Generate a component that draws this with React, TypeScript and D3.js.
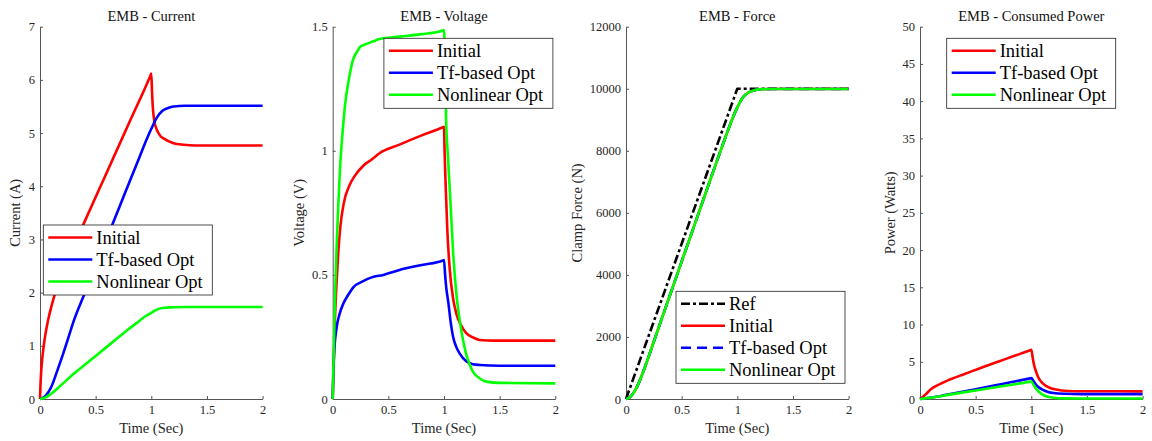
import React, { useRef, useEffect } from "react";
import * as d3 from "d3";

type Pt = [number, number];

// ---- data ----
const timeTicks = [0, 0.5, 1, 1.5, 2];
const optNames = ["Initial", "Tf-based Opt", "Nonlinear Opt"];
const forceNames = ["Ref", "Initial", "Tf-based Opt", "Nonlinear Opt"];

const currentTicks = [0, 1, 2, 3, 4, 5, 6, 7];
const voltageTicks = [0, 0.5, 1, 1.5];
const forceTicks = [0, 2000, 4000, 6000, 8000, 10000, 12000];
const powerTicks = [0, 5, 10, 15, 20, 25, 30, 35, 40, 45, 50];

const currentInitial: Pt[] = [
  [0, 0], [0.005, 0.3], [0.01, 0.5], [0.02, 0.75], [0.04, 1.1], [0.06, 1.35], [0.08, 1.55],
  [0.1, 1.72], [0.13, 1.95], [0.2, 2.35], [0.3, 2.86], [0.4, 3.33], [0.6, 4.26], [0.8, 5.19],
  [0.99, 6.07], [1.0, 6.12], [1.008, 5.7], [1.015, 5.45], [1.026, 5.24], [1.05, 5.06],
  [1.08, 4.95], [1.11, 4.9], [1.2, 4.81], [1.29, 4.78], [1.4, 4.765], [2, 4.765],
];
const currentTf: Pt[] = [
  [0, 0], [0.05, 0.06], [0.1, 0.22], [0.15, 0.5], [0.2, 0.8], [0.25, 1.12], [0.3, 1.45],
  [0.4, 1.98], [0.5, 2.5], [0.6, 3.02], [0.7, 3.54], [0.8, 4.06], [0.9, 4.58], [0.95, 4.84],
  [1.0, 5.08], [1.05, 5.29], [1.1, 5.42], [1.15, 5.47], [1.2, 5.5], [1.3, 5.515], [2, 5.515],
];
const currentNl: Pt[] = [
  [0, 0], [0.05, 0.03], [0.1, 0.1], [0.2, 0.28], [0.3, 0.47], [0.4, 0.64], [0.5, 0.81],
  [0.6, 0.98], [0.7, 1.15], [0.8, 1.32], [0.9, 1.48], [0.95, 1.56], [1.0, 1.62], [1.05, 1.68],
  [1.1, 1.71], [1.2, 1.725], [1.3, 1.73], [2, 1.73],
];

const voltInitial: Pt[] = [
  [0, 0], [0.01, 0.15], [0.02, 0.32], [0.035, 0.47], [0.05, 0.59], [0.07, 0.7], [0.1, 0.79],
  [0.15, 0.86], [0.2, 0.9], [0.275, 0.94], [0.35, 0.965], [0.42, 0.99], [0.6, 1.025],
  [0.8, 1.062], [0.99, 1.095], [1.0, 1.097], [1.005, 1.0], [1.015, 0.86], [1.03, 0.68],
  [1.052, 0.52], [1.08, 0.41], [1.11, 0.345], [1.15, 0.3], [1.2, 0.265], [1.26, 0.248],
  [1.32, 0.238], [1.45, 0.235], [2, 0.235],
];
const voltTf: Pt[] = [
  [0, 0], [0.005, 0.1], [0.012, 0.18], [0.036, 0.29], [0.06, 0.34], [0.096, 0.385],
  [0.14, 0.42], [0.185, 0.45], [0.275, 0.475], [0.35, 0.49], [0.455, 0.5], [0.6, 0.52],
  [0.8, 0.54], [0.99, 0.558], [1.0, 0.56], [1.01, 0.5], [1.02, 0.45], [1.04, 0.385],
  [1.06, 0.31], [1.082, 0.25], [1.11, 0.21], [1.14, 0.184], [1.2, 0.152], [1.26, 0.14],
  [1.32, 0.137], [1.5, 0.134], [2, 0.134],
];
const voltNl: Pt[] = [
  [0, 0], [0.01, 0.2], [0.02, 0.4], [0.036, 0.62], [0.05, 0.78], [0.066, 0.93], [0.09, 1.08],
  [0.11, 1.18], [0.15, 1.3], [0.185, 1.37], [0.22, 1.4], [0.25, 1.42], [0.3, 1.43],
  [0.36, 1.44], [0.42, 1.45], [0.6, 1.46], [0.8, 1.47], [0.99, 1.485], [1.0, 1.487],
  [1.01, 1.35], [1.018, 1.14], [1.035, 0.98], [1.055, 0.82], [1.082, 0.59], [1.11, 0.43],
  [1.14, 0.32], [1.17, 0.24], [1.2, 0.18], [1.23, 0.14], [1.26, 0.11], [1.3, 0.09],
  [1.38, 0.07], [1.5, 0.065], [2, 0.063],
];

const forceRef: Pt[] = [[0, 0], [1, 10000], [2, 10000]];
const forceInitial: Pt[] = [
  [0, 0], [0.03, 40], [0.06, 160], [0.1, 400], [0.15, 830], [0.2, 1330], [0.3, 2370],
  [0.4, 3400], [0.5, 4430], [0.6, 5450], [0.7, 6480], [0.8, 7500], [0.9, 8500], [0.95, 8980],
  [1.0, 9400], [1.05, 9720], [1.1, 9880], [1.15, 9950], [1.2, 9980], [1.3, 9990], [2, 9990],
];
const forceTf: Pt[] = [
  [0, 0], [0.03, 40], [0.06, 160], [0.1, 400], [0.15, 830], [0.2, 1330], [0.3, 2370],
  [0.4, 3400], [0.5, 4430], [0.6, 5450], [0.7, 6480], [0.8, 7500], [0.9, 8500], [0.95, 8980],
  [1.0, 9400], [1.05, 9720], [1.1, 9880], [1.15, 9950], [1.2, 9980], [1.3, 9990], [2, 9990],
];
const forceNl: Pt[] = [
  [0, 0], [0.03, 40], [0.06, 160], [0.1, 400], [0.15, 830], [0.2, 1330], [0.3, 2370],
  [0.4, 3400], [0.5, 4430], [0.6, 5450], [0.7, 6480], [0.8, 7500], [0.9, 8500], [0.95, 8980],
  [1.0, 9400], [1.05, 9720], [1.1, 9880], [1.15, 9950], [1.2, 9980], [1.3, 9990], [2, 9990],
];

const powerInitial: Pt[] = [
  [0, 0], [0.05, 0.6], [0.1, 1.35], [0.15, 1.8], [0.2, 2.15], [0.25, 2.5], [0.3, 2.8],
  [0.4, 3.35], [0.55, 4.2], [0.7, 5.0], [0.85, 5.8], [0.99, 6.55], [1.0, 6.6], [1.01, 5.8],
  [1.02, 4.9], [1.04, 3.8], [1.06, 3.0], [1.09, 2.3], [1.12, 1.88], [1.16, 1.55], [1.21, 1.3],
  [1.27, 1.15], [1.33, 1.08], [1.45, 1.04], [2, 1.03],
];
const powerTf: Pt[] = [
  [0, 0], [0.1, 0.2], [0.25, 0.6], [0.5, 1.3], [0.75, 2.05], [0.9, 2.5], [0.99, 2.77],
  [1.0, 2.8], [1.02, 2.4], [1.05, 1.8], [1.1, 1.25], [1.15, 0.95], [1.2, 0.8], [1.3, 0.7],
  [1.45, 0.66], [2, 0.65],
];
const powerNl: Pt[] = [
  [0, 0], [0.1, 0.18], [0.25, 0.55], [0.5, 1.15], [0.75, 1.75], [0.9, 2.1], [0.99, 2.33],
  [1.0, 2.35], [1.02, 1.9], [1.05, 1.25], [1.1, 0.6], [1.15, 0.3], [1.2, 0.17], [1.3, 0.09],
  [1.45, 0.07], [2, 0.07],
];

const RED = "#ff0000";
const BLUE = "#0000ff";
const GREEN = "#00ff00";

const panels = [
  {
    title: "EMB - Current", ylabel: "Current (A)", yDomain: [0, 7], yTicks: currentTicks,
    series: [
      { name: optNames[0], data: currentInitial, color: RED, dash: null, straight: false },
      { name: optNames[1], data: currentTf, color: BLUE, dash: null, straight: false },
      { name: optNames[2], data: currentNl, color: GREEN, dash: null, straight: false },
    ],
    legend: { left: 3.3, top: 225 },
  },
  {
    title: "EMB - Voltage", ylabel: "Voltage (V)", yDomain: [0, 1.5], yTicks: voltageTicks,
    series: [
      { name: optNames[0], data: voltInitial, color: RED, dash: null, straight: false },
      { name: optNames[1], data: voltTf, color: BLUE, dash: null, straight: false },
      { name: optNames[2], data: voltNl, color: GREEN, dash: null, straight: false },
    ],
    legend: { right: 2.4, top: 38.3 },
  },
  {
    title: "EMB - Force", ylabel: "Clamp Force (N)", yDomain: [0, 12000], yTicks: forceTicks,
    series: [
      { name: forceNames[0], data: forceRef, color: "#000", dash: "9,3,3,3", straight: true },
      { name: forceNames[1], data: forceInitial, color: RED, dash: null, straight: false },
      { name: forceNames[2], data: forceTf, color: BLUE, dash: "10,6", straight: false },
      { name: forceNames[3], data: forceNl, color: GREEN, dash: null, straight: false },
    ],
    legend: { right: 3.6, bottom: 15.7 },
  },
  {
    title: "EMB - Consumed Power", ylabel: "Power (Watts)", yDomain: [0, 50], yTicks: powerTicks,
    series: [
      { name: optNames[0], data: powerInitial, color: RED, dash: null, straight: false },
      { name: optNames[1], data: powerTf, color: BLUE, dash: null, straight: false },
      { name: optNames[2], data: powerNl, color: GREEN, dash: null, straight: false },
    ],
    legend: { left: 26.7, top: 38.3 },
  },
];

const W = 1152;
const H = 441;
const plotLefts = [40, 332.7, 626, 920];
const plotWidth = 222.6;
const plotTop = 26.7;
const plotBottom = 399;
const FONT = "Liberation Serif, DejaVu Serif, serif";
const AXIS_COLOR = "#555";
const TEXT_COLOR = "#262626";

const App = () => {
  const svgRef = useRef<SVGSVGElement>(null);

  useEffect(() => {
    const svg = d3.select(svgRef.current);
    svg.selectAll("*").remove();

    panels.forEach((p, i) => {
      const left = plotLefts[i];
      const x = d3.scaleLinear().domain([0, 2]).range([left, left + plotWidth]);
      const y = d3.scaleLinear().domain(p.yDomain).range([plotBottom, plotTop]);
      const g = svg.append("g");

      // axes (drawn under the data, like MATLAB's default layer)
      const xAxis = g
        .append("g")
        .attr("transform", `translate(0,${plotBottom})`)
        .call(
          d3.axisBottom(x).tickValues(timeTicks).tickSizeInner(-3).tickSizeOuter(0)
            .tickPadding(6).tickFormat((d) => String(d))
        );
      const yAxis = g
        .append("g")
        .attr("transform", `translate(${left},0)`)
        .call(
          d3.axisLeft(y).tickValues(p.yTicks).tickSizeInner(-3).tickSizeOuter(0)
            .tickPadding(5).tickFormat((d) => String(d))
        );
      [xAxis, yAxis].forEach((ax) => {
        ax.attr("font-family", null).attr("font-size", null);
        ax.selectAll(".tick text").style("font-family", FONT).style("font-size", "12.5px").attr("fill", TEXT_COLOR);
        ax.select(".domain").attr("stroke", AXIS_COLOR).attr("stroke-width", 1);
        ax.selectAll(".tick line").attr("stroke", AXIS_COLOR);
      });

      // widest tick label sets the y label offset
      let maxW = 0;
      yAxis.selectAll<SVGTextElement, unknown>(".tick text").each(function () {
        maxW = Math.max(maxW, this.getBBox().width);
      });

      // lines
      const smooth = d3.line<Pt>().x((d) => x(d[0])).y((d) => y(d[1])).curve(d3.curveMonotoneX);
      const straight = d3.line<Pt>().x((d) => x(d[0])).y((d) => y(d[1]));
      p.series.forEach((s) => {
        g.append("path")
          .attr("d", (s.straight ? straight : smooth)(s.data))
          .attr("fill", "none")
          .attr("stroke", s.color)
          .attr("stroke-width", 2.6)
          .attr("stroke-dasharray", s.dash)
          .attr("stroke-linejoin", "round");
      });

      // title & labels
      g.append("text")
        .attr("x", left + plotWidth / 2)
        .attr("y", 20.5)
        .attr("text-anchor", "middle")
        .style("font-family", FONT)
        .style("font-size", "14.5px")
        .attr("fill", "#111")
        .text(p.title);
      g.append("text")
        .attr("x", left + plotWidth / 2)
        .attr("y", 433)
        .attr("text-anchor", "middle")
        .style("font-family", FONT)
        .style("font-size", "14.5px")
        .attr("fill", TEXT_COLOR)
        .text("Time (Sec)");
      const lx = left - maxW - 13;
      const ly = (plotTop + plotBottom) / 2;
      g.append("text")
        .attr("transform", `translate(${lx},${ly}) rotate(-90)`)
        .attr("text-anchor", "middle")
        .style("font-family", FONT)
        .style("font-size", "14.5px")
        .attr("fill", TEXT_COLOR)
        .text(p.ylabel);

      // legend
      const n = p.series.length;
      const lw = 169;
      const rowH = 22;
      const lh = 26 + (n - 1) * rowH;
      const L: any = p.legend;
      const bx = L.left !== undefined ? left + L.left : left + plotWidth - L.right - lw;
      const by = L.top !== undefined ? L.top : plotBottom - L.bottom - lh;
      const lg = g.append("g").attr("transform", `translate(${bx},${by})`);
      lg.append("rect")
        .attr("width", lw)
        .attr("height", lh)
        .attr("fill", "#fff")
        .attr("stroke", "#222")
        .attr("stroke-width", 0.8);
      p.series.forEach((s, k) => {
        const ry = 12.5 + k * rowH;
        lg.append("line")
          .attr("x1", 5)
          .attr("x2", 49)
          .attr("y1", ry)
          .attr("y2", ry)
          .attr("stroke", s.color)
          .attr("stroke-width", 2.6)
          .attr("stroke-dasharray", s.dash);
        lg.append("text")
          .attr("x", 53)
          .attr("y", ry)
          .attr("dy", "0.34em")
          .style("font-family", FONT)
          .style("font-size", "18.5px")
          .attr("fill", "#000")
          .text(s.name);
      });
    });
  }, []);

  return (
    <svg
      ref={svgRef}
      width={W}
      height={H}
      style={{ position: "absolute", left: 0, top: 0, background: "#fff" }}
    />
  );
};

export default App;
